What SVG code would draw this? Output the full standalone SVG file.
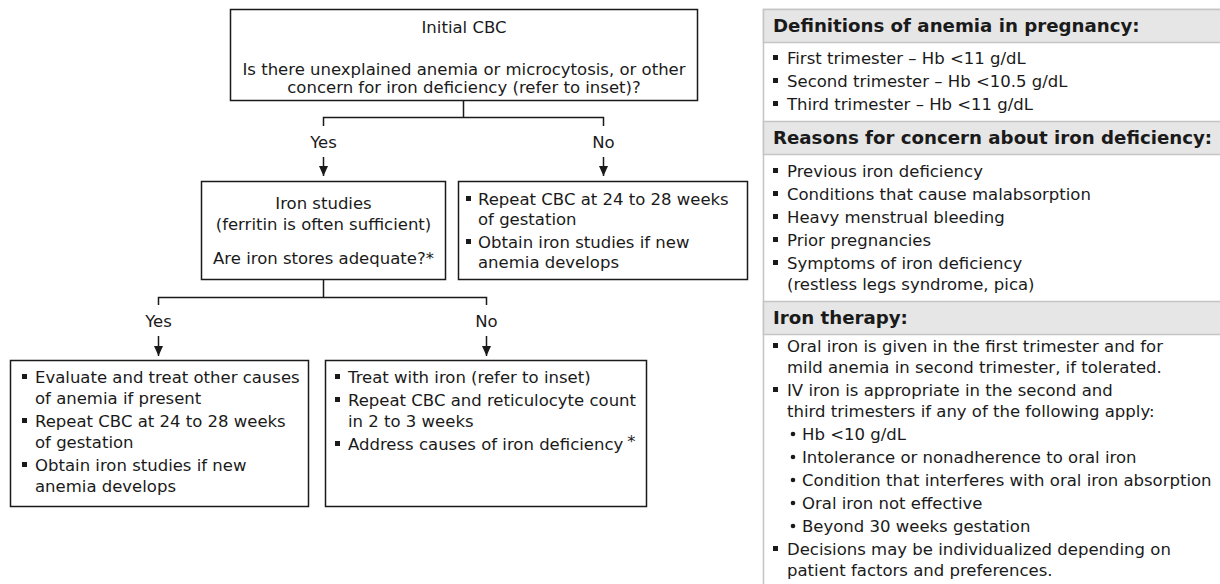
<svg xmlns="http://www.w3.org/2000/svg" width="1220" height="584" viewBox="0 0 1220 584">
<defs>
<marker id="ah" markerWidth="12" markerHeight="12" refX="10" refY="5" orient="auto" markerUnits="userSpaceOnUse">
<path d="M0,0.5 L10,5 L0,9.5 Z" fill="#1a1a1a"/>
</marker>
<style>
text{font-family:"DejaVu Sans",Verdana,sans-serif;font-size:16.5px;fill:#1a1a1a}
.c{text-anchor:middle}
.h{font-weight:bold;font-size:18.2px}
.box{fill:#fff;stroke:#1a1a1a;stroke-width:1.5}
.ln{fill:none;stroke:#1a1a1a;stroke-width:1.5}
.arr{fill:none;stroke:#1a1a1a;stroke-width:1.5;marker-end:url(#ah)}
.band{fill:#e6e6e6;stroke:#c4c4c4;stroke-width:1.5}
.panel{fill:#fff;stroke:#c4c4c4;stroke-width:1.5}
.sq{fill:#1a1a1a}
.dot{fill:#1a1a1a}
</style>
</defs>
<rect width="1220" height="584" fill="#fff"/>

<g id="connectors">
<path class="ln" d="M463.5,101 V117.5 M323.5,126 V117.5 H603.5 V126"/>
<text class="c" x="323.5" y="148">Yes</text>
<text class="c" x="603.5" y="148">No</text>
<line class="arr" x1="323.5" y1="157" x2="323.5" y2="176"/>
<line class="arr" x1="603.5" y1="157" x2="603.5" y2="176"/>
<path class="ln" d="M323.5,280 V297.5 M158.5,305 V297.5 H486.5 V305"/>
<text class="c" x="158.5" y="327">Yes</text>
<text class="c" x="486.5" y="327">No</text>
<line class="arr" x1="158.5" y1="336" x2="158.5" y2="356"/>
<line class="arr" x1="486.5" y1="336" x2="486.5" y2="356"/>
</g>

<g id="initial-cbc">
<rect class="box" x="230.5" y="9.5" width="467" height="91"/>
<text class="c" x="464" y="33">Initial CBC</text>
<text class="c" x="464" y="75">Is there unexplained anemia or microcytosis, or other</text>
<text class="c" x="464" y="93">concern for iron deficiency (refer to inset)?</text>
</g>

<g id="iron-studies">
<rect class="box" x="201.5" y="181.5" width="244" height="98"/>
<text class="c" x="323.5" y="209">Iron studies</text>
<text class="c" x="323.5" y="230">(ferritin is often sufficient)</text>
<text class="c" x="323.5" y="264">Are iron stores adequate?*</text>
</g>

<g id="no-anemia">
<rect class="box" x="458.5" y="181.5" width="289" height="98"/>
<rect class="sq" x="466" y="196" width="5" height="5"/>
<text x="478" y="205">Repeat CBC at 24 to 28 weeks</text>
<text x="478" y="225">of gestation</text>
<rect class="sq" x="466" y="239" width="5" height="5"/>
<text x="478" y="248">Obtain iron studies if new</text>
<text x="478" y="268">anemia develops</text>
</g>

<g id="stores-adequate">
<rect class="box" x="10.5" y="360.5" width="298" height="146"/>
<rect class="sq" x="22" y="374" width="5" height="5"/>
<text x="35" y="383">Evaluate and treat other causes</text>
<text x="35" y="404">of anemia if present</text>
<rect class="sq" x="22" y="418" width="5" height="5"/>
<text x="35" y="427">Repeat CBC at 24 to 28 weeks</text>
<text x="35" y="448">of gestation</text>
<rect class="sq" x="22" y="462" width="5" height="5"/>
<text x="35" y="471">Obtain iron studies if new</text>
<text x="35" y="492">anemia develops</text>
</g>

<g id="stores-inadequate">
<rect class="box" x="325.5" y="360.5" width="321" height="146"/>
<rect class="sq" x="335" y="374" width="5" height="5"/>
<text x="348" y="383">Treat with iron (refer to inset)</text>
<rect class="sq" x="335" y="397" width="5" height="5"/>
<text x="348" y="406">Repeat CBC and reticulocyte count</text>
<text x="348" y="427">in 2 to 3 weeks</text>
<rect class="sq" x="335" y="441" width="5" height="5"/>
<text x="348" y="450">Address causes of iron deficiency<tspan dx="4" dy="-3">*</tspan></text>
</g>

<g id="inset">
<rect class="panel" x="763.5" y="9.5" width="460" height="590"/>

<rect class="band" x="763.5" y="9.5" width="460" height="33"/>
<text class="h" x="773" y="32">Definitions of anemia in pregnancy:</text>
<rect class="sq" x="773" y="55" width="5" height="5"/>
<text x="787" y="64">First trimester – Hb &lt;11 g/dL</text>
<rect class="sq" x="773" y="78" width="5" height="5"/>
<text x="787" y="87">Second trimester – Hb &lt;10.5 g/dL</text>
<rect class="sq" x="773" y="101" width="5" height="5"/>
<text x="787" y="110">Third trimester – Hb &lt;11 g/dL</text>

<rect class="band" x="763.5" y="121.5" width="460" height="33"/>
<text class="h" x="773" y="144">Reasons for concern about iron deficiency:</text>
<rect class="sq" x="773" y="168" width="5" height="5"/>
<text x="787" y="177">Previous iron deficiency</text>
<rect class="sq" x="773" y="191" width="5" height="5"/>
<text x="787" y="200">Conditions that cause malabsorption</text>
<rect class="sq" x="773" y="214" width="5" height="5"/>
<text x="787" y="223">Heavy menstrual bleeding</text>
<rect class="sq" x="773" y="237" width="5" height="5"/>
<text x="787" y="246">Prior pregnancies</text>
<rect class="sq" x="773" y="260" width="5" height="5"/>
<text x="787" y="269">Symptoms of iron deficiency</text>
<text x="787" y="290">(restless legs syndrome, pica)</text>

<rect class="band" x="763.5" y="301.5" width="460" height="33"/>
<text class="h" x="773" y="324">Iron therapy:</text>
<rect class="sq" x="773" y="343" width="5" height="5"/>
<text x="787" y="352">Oral iron is given in the first trimester and for</text>
<text x="787" y="373">mild anemia in second trimester, if tolerated.</text>
<rect class="sq" x="773" y="387" width="5" height="5"/>
<text x="787" y="396">IV iron is appropriate in the second and</text>
<text x="787" y="417">third trimesters if any of the following apply:</text>
<circle class="dot" cx="793" cy="434" r="2.3"/>
<text x="802" y="440">Hb &lt;10 g/dL</text>
<circle class="dot" cx="793" cy="457" r="2.3"/>
<text x="802" y="463">Intolerance or nonadherence to oral iron</text>
<circle class="dot" cx="793" cy="480" r="2.3"/>
<text x="802" y="486">Condition that interferes with oral iron absorption</text>
<circle class="dot" cx="793" cy="503" r="2.3"/>
<text x="802" y="509">Oral iron not effective</text>
<circle class="dot" cx="793" cy="526" r="2.3"/>
<text x="802" y="532">Beyond 30 weeks gestation</text>
<rect class="sq" x="773" y="546" width="5" height="5"/>
<text x="787" y="555">Decisions may be individualized depending on</text>
<text x="787" y="576">patient factors and preferences.</text>
</g>
</svg>
